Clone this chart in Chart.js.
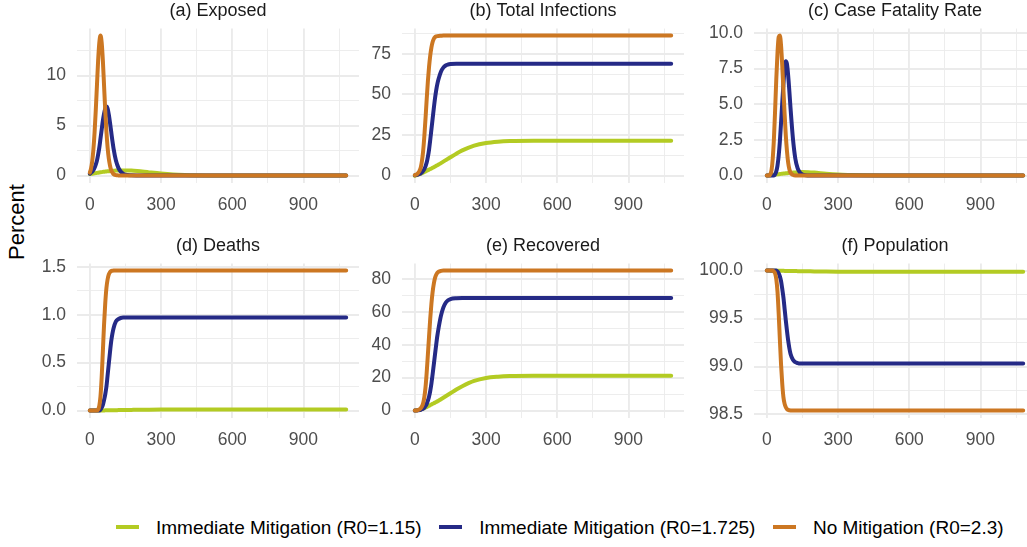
<!DOCTYPE html>
<html>
<head>
<meta charset="utf-8">
<script src="https://cdn.jsdelivr.net/npm/chart.js@4.4.0/dist/chart.umd.min.js"></script>
<style>
  html, body { margin: 0; padding: 0; background: #fff; }
  body { position: relative; width: 1027px; height: 547px; overflow: hidden; font-family: "Liberation Sans", Arial, sans-serif; }
  canvas { position: absolute; }
  #ytitle { position: absolute; left: 17px; top: 222px; transform: translate(-50%, -50%) rotate(-90deg); font-size: 22px; color: #000; white-space: nowrap; }
  #legend { position: absolute; left: 116px; top: 515px; height: 26px; display: flex; align-items: center; font-size: 19px; color: #000; white-space: nowrap; }
  .item { display: flex; align-items: center; margin-right: 17.6px; }
  .key { display: inline-block; width: 23px; height: 4px; margin-right: 17px; position: relative; top: -1px; }
</style>
</head>
<body>
<div id="ytitle">Percent</div>
<div id="legend"></div>
<script>
// days since start
const days = [0,5,10,15,20,25,30,35,40,45,50,55,60,65,70,75,80,85,90,95,100,110,120,130,140,150,175,200,250,300,350,400,500,600,800,1080];
const dayTicks = [0,150,300,450,600,750,900,1050];

const seriesNames = ["Immediate Mitigation (R0=1.15)", "Immediate Mitigation (R0=1.725)", "No Mitigation (R0=2.3)"];
const seriesColors = ["#B3CB23", "#252A86", "#CC7722"];

// (a) Exposed
const exposedLow  = [0.15,0.17,0.19,0.21,0.23,0.25,0.27,0.29,0.31,0.33,0.35,0.37,0.39,0.40,0.42,0.43,0.44,0.45,0.46,0.47,0.48,0.50,0.51,0.52,0.52,0.52,0.50,0.45,0.32,0.20,0.11,0.06,0.015,0.004,0,0];
const exposedMid  = [0.2,0.3,0.4,0.55,0.8,1.1,1.5,2.1,2.8,3.7,4.6,5.5,6.2,6.7,6.9,6.7,6.1,5.3,4.4,3.5,2.7,1.5,0.8,0.4,0.2,0.1,0.03,0.01,0,0,0,0,0,0,0,0];
const exposedHigh = [0.3,0.7,1.4,2.6,4.3,6.5,9.0,11.5,13.3,14.0,13.3,11.5,9.0,6.5,4.4,2.8,1.7,1.0,0.55,0.3,0.15,0.05,0.02,0.01,0,0,0,0,0,0,0,0,0,0,0,0];

// (b) Total Infections
const infLow  = [0,0.2,0.45,0.7,0.95,1.2,1.5,1.8,2.2,2.6,3.0,3.35,3.7,4.05,4.4,4.8,5.2,5.6,6.0,6.4,6.8,7.7,8.6,9.5,10.4,11.3,13.5,15.5,18.5,20.1,20.9,21.3,21.5,21.5,21.5,21.5];
const infMid  = [0.2,0.3,0.5,0.7,1.0,1.4,2.0,2.9,4.0,5.7,8.0,11.5,16,22,28.5,35,41.5,47.5,52.5,56.5,59.5,64,66.5,67.8,68.4,68.7,68.9,68.9,68.9,68.9,68.9,68.9,68.9,68.9,68.9,68.9];
const infHigh = [0.3,0.6,1.0,1.8,3.0,5.0,9,15,24,35,47,58,67,74,79,82.3,84.2,85.2,85.7,85.9,86.0,86.1,86.2,86.2,86.2,86.2,86.2,86.2,86.2,86.2,86.2,86.2,86.2,86.2,86.2,86.2];

// (c) Case Fatality Rate
const cfrLow  = [0,0.01,0.02,0.03,0.04,0.05,0.06,0.07,0.08,0.09,0.10,0.11,0.12,0.13,0.14,0.15,0.16,0.17,0.18,0.19,0.20,0.21,0.22,0.23,0.24,0.25,0.24,0.21,0.13,0.07,0.04,0.02,0.005,0,0,0];
const cfrMid  = [0,0,0,0,0,0,0,0.1,0.3,0.7,1.4,2.4,3.7,5.1,6.4,7.5,8.0,7.8,7.0,5.9,4.7,2.6,1.2,0.5,0.2,0.08,0.01,0,0,0,0,0,0,0,0,0];
const cfrHigh = [0,0,0,0.1,0.4,1.2,2.6,4.6,6.8,8.6,9.7,9.8,9.1,7.7,6.0,4.3,2.8,1.7,0.9,0.45,0.2,0.05,0,0,0,0,0,0,0,0,0,0,0,0,0,0];

// (d) Deaths
const deathLow  = [0,0,0.0002,0.0004,0.0006,0.0008,0.001,0.0012,0.0014,0.0016,0.0018,0.002,0.0022,0.0025,0.0027,0.003,0.0032,0.0034,0.0036,0.0038,0.004,0.0045,0.005,0.0055,0.006,0.0065,0.0075,0.0085,0.01,0.011,0.0115,0.012,0.012,0.012,0.012,0.012];
const deathMid  = [0,0,0,0,0,0,0,0,0,0.01,0.03,0.06,0.11,0.17,0.25,0.37,0.49,0.61,0.72,0.8,0.86,0.93,0.955,0.966,0.97,0.97,0.97,0.97,0.97,0.97,0.97,0.97,0.97,0.97,0.97,0.97];
const deathHigh = [0,0,0,0,0,0,0,0.01,0.05,0.15,0.35,0.62,0.9,1.12,1.28,1.37,1.42,1.445,1.455,1.458,1.46,1.46,1.46,1.46,1.46,1.46,1.46,1.46,1.46,1.46,1.46,1.46,1.46,1.46,1.46,1.46];

// (e) Recovered
const recLow  = [0,0.1,0.2,0.33,0.46,0.6,0.9,1.2,1.5,1.85,2.2,2.6,2.95,3.35,3.7,4.1,4.5,4.85,5.25,5.6,6.0,6.9,7.8,8.7,9.6,10.5,12.8,14.8,18,19.8,20.6,21.0,21.2,21.2,21.2,21.2];
const recMid  = [0,0.05,0.1,0.2,0.3,0.5,0.8,1.2,1.8,2.8,4.0,6.0,8.5,12,16.5,22,28,34,40,45.5,50,57.5,62.5,65.5,67,67.7,68.2,68.3,68.3,68.3,68.3,68.3,68.3,68.3,68.3,68.3];
const recHigh = [0,0.1,0.2,0.45,0.8,1.5,2.5,4.5,8,14,23,34,45,56,65,72,77,80.5,82.5,83.7,84.3,84.8,85,85,85,85,85,85,85,85,85,85,85,85,85,85];

// (f) Population
const popLow  = [100,100,99.9998,99.9996,99.9994,99.9992,99.999,99.9988,99.9986,99.9984,99.9982,99.998,99.9978,99.9975,99.9973,99.997,99.9968,99.9966,99.9964,99.9962,99.996,99.9955,99.995,99.9945,99.994,99.9935,99.9925,99.9915,99.99,99.989,99.9885,99.988,99.988,99.988,99.988,99.988];
const popMid  = [100,100,100,100,100,100,100,100,100,99.99,99.97,99.94,99.89,99.81,99.72,99.6,99.48,99.37,99.27,99.19,99.13,99.07,99.045,99.035,99.03,99.03,99.03,99.03,99.03,99.03,99.03,99.03,99.03,99.03,99.03,99.03];
const popHigh = [100,100,100,100,100,100,99.99,99.97,99.91,99.78,99.55,99.28,99.02,98.82,98.68,98.61,98.575,98.555,98.547,98.544,98.542,98.54,98.54,98.54,98.54,98.54,98.54,98.54,98.54,98.54,98.54,98.54,98.54,98.54,98.54,98.54];

const xMin = -54, xMax = 1134;

const panels = [
  { title: "(a) Exposed",            series: [exposedLow, exposedMid, exposedHigh], major: 5,   minor: 2.5,  dec: 0, left: 77,  top: 0 },
  { title: "(b) Total Infections",   series: [infLow, infMid, infHigh],             major: 25,  minor: 12.5, dec: 0, left: 402, top: 0 },
  { title: "(c) Case Fatality Rate", series: [cfrLow, cfrMid, cfrHigh],             major: 2.5, minor: 1.25, dec: 1, left: 754, top: 0 },
  { title: "(d) Deaths",             series: [deathLow, deathMid, deathHigh],       major: 0.5, minor: 0.25, dec: 1, left: 77,  top: 235 },
  { title: "(e) Recovered",          series: [recLow, recMid, recHigh],             major: 20,  minor: 10,   dec: 0, left: 402, top: 235 },
  { title: "(f) Population",         series: [popLow, popMid, popHigh],             major: 0.5, minor: 0.25, dec: 1, left: 754, top: 235 }
];

const AXW = 70, PW = 282, CH = 223, XH = 40.4;
const gridCol = "#EBEBEB";

Chart.defaults.font.family = '"Liberation Sans", Arial, sans-serif';
Chart.defaults.animation = false;

function isMajor(v, step) {
  const r = v / step;
  return Math.abs(r - Math.round(r)) < 1e-6;
}

panels.forEach(p => {
  const cv = document.createElement("canvas");
  cv.width = AXW + PW;
  cv.height = CH;
  cv.style.left = (p.left - AXW) + "px";
  cv.style.top = p.top + "px";
  document.body.appendChild(cv);

  const all = [].concat(...p.series);
  const lo = Math.min(...all), hi = Math.max(...all);
  const pad = (hi - lo) * 0.05;

  // orange drawn on top, green at the bottom
  const order = [2, 1, 0];
  const datasets = order.map(k => ({
    label: seriesNames[k],
    data: days.map((d, i) => ({ x: d, y: p.series[k][i] })),
    borderColor: seriesColors[k],
    borderWidth: 4,
    borderCapStyle: "round",
    borderJoinStyle: "round",
    pointRadius: 0,
    cubicInterpolationMode: "monotone",
    fill: false
  }));

  new Chart(cv, {
    type: "line",
    data: { datasets },
    options: {
      responsive: false,
      devicePixelRatio: 1,
      events: [],
      layout: { padding: 0 },
      plugins: {
        legend: { display: false },
        tooltip: { enabled: false },
        title: {
          display: true,
          text: p.title,
          fullSize: false,
          color: "#1A1A1A",
          font: { size: 18, weight: "normal" },
          padding: { top: 0, bottom: 7 }
        }
      },
      scales: {
        x: {
          type: "linear",
          min: xMin,
          max: xMax,
          border: { display: false },
          grid: {
            color: gridCol,
            drawTicks: false,
            lineWidth: c => isMajor(c.tick.value, 300) ? 1.9 : 0.9
          },
          afterBuildTicks: s => { s.ticks = dayTicks.map(v => ({ value: v })); },
          ticks: {
            autoSkip: false,
            maxRotation: 0,
            padding: 12,
            color: "#4D4D4D",
            font: { size: 17.5 },
            callback: v => isMajor(v, 300) ? String(v) : ""
          },
          afterFit: s => { s.height = XH; }
        },
        y: {
          type: "linear",
          min: lo - pad,
          max: hi + pad,
          border: { display: false },
          grid: {
            color: gridCol,
            drawTicks: false,
            lineWidth: c => isMajor(c.tick.value, p.major) ? 1.9 : 0.9
          },
          afterBuildTicks: s => {
            const t = [];
            for (let k = Math.ceil(s.min / p.minor - 1e-9); k * p.minor <= s.max + 1e-9; k++) {
              t.push({ value: Math.round(k * p.minor * 1e6) / 1e6 });
            }
            s.ticks = t;
          },
          ticks: {
            autoSkip: false,
            padding: 11,
            color: "#4D4D4D",
            font: { size: 17.5 },
            callback: v => isMajor(v, p.major) ? v.toFixed(p.dec) : ""
          },
          afterFit: s => { s.width = AXW; }
        }
      }
    }
  });
});

// legend
const legend = document.getElementById("legend");
seriesNames.forEach((name, k) => {
  const it = document.createElement("div");
  it.className = "item";
  const key = document.createElement("span");
  key.className = "key";
  key.style.background = seriesColors[k];
  const txt = document.createElement("span");
  txt.textContent = name;
  it.appendChild(key);
  it.appendChild(txt);
  legend.appendChild(it);
});
</script>
</body>
</html>
